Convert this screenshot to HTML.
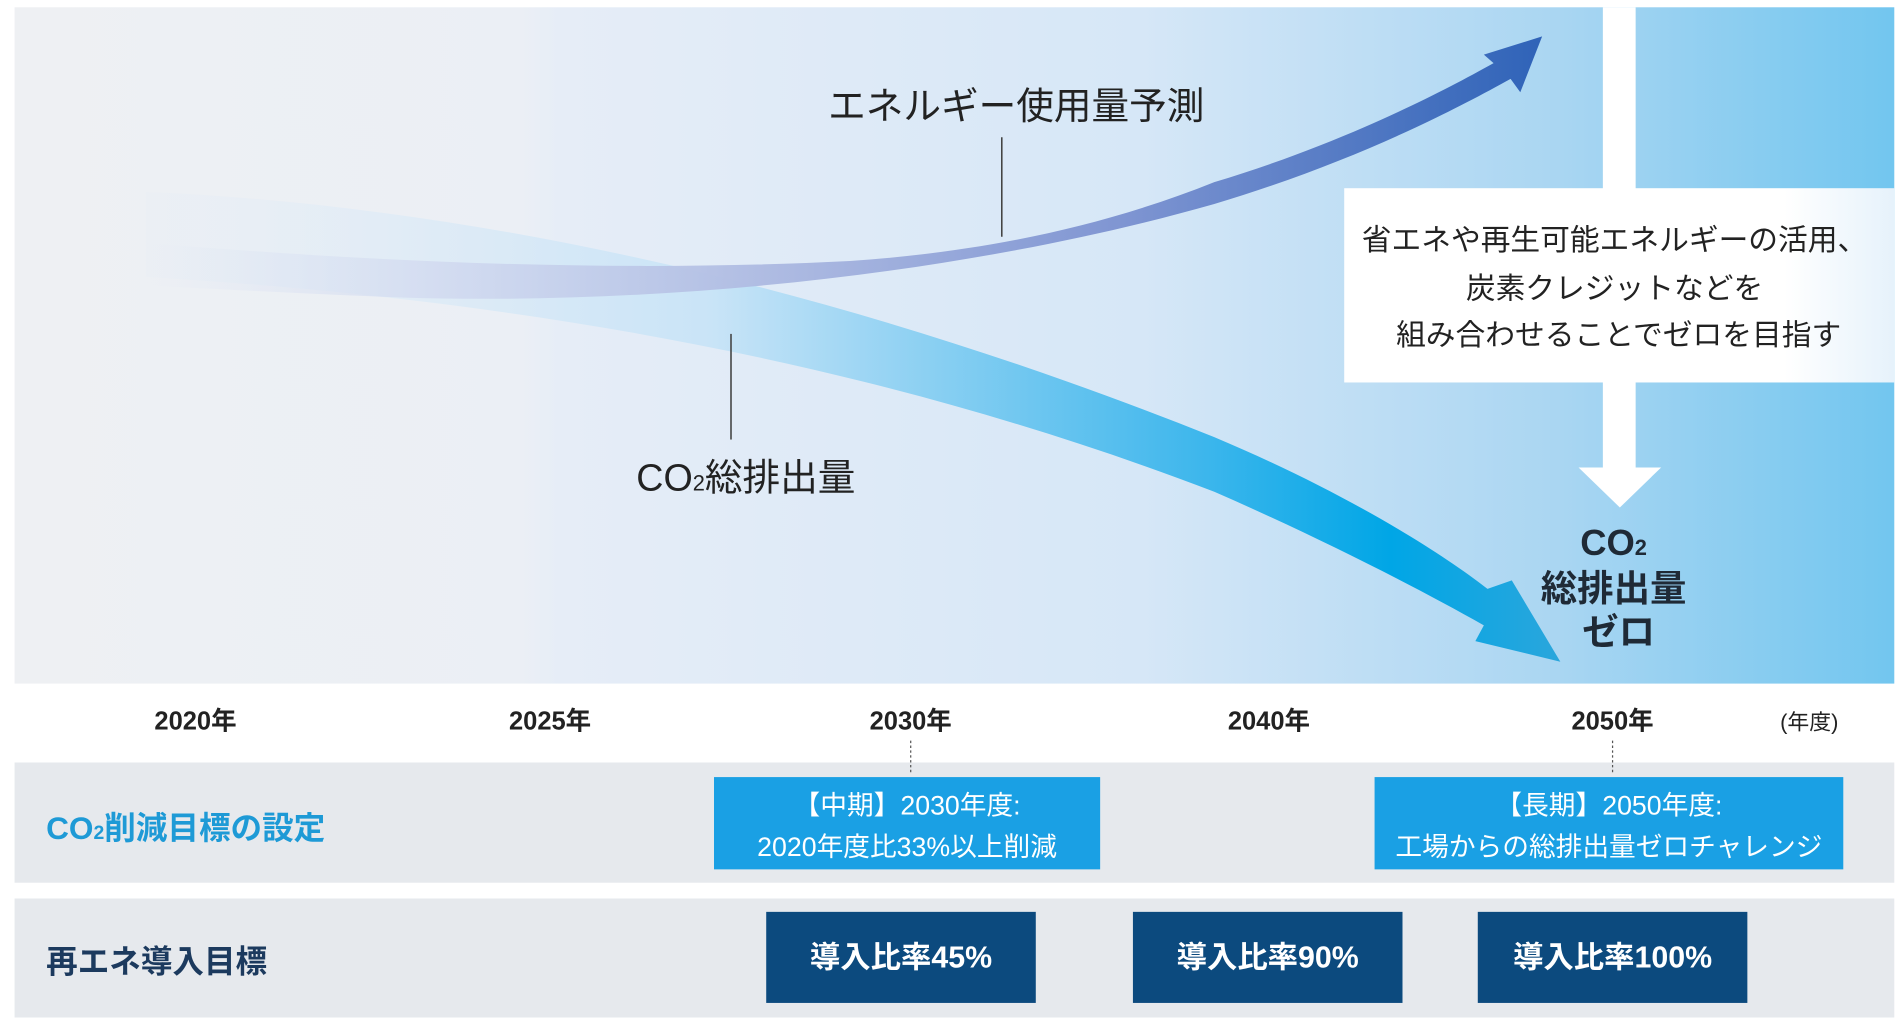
<!DOCTYPE html>
<html><head><meta charset="utf-8"><style>
html,body{margin:0;padding:0;background:#fff;}
svg{display:block;}
text{font-family:"Liberation Sans","Noto Sans CJK JP",sans-serif;}
</style></head><body>
<svg width="1904" height="1026" viewBox="0 0 1568 845" preserveAspectRatio="none" xmlns="http://www.w3.org/2000/svg">
<defs>
<linearGradient id="bg" x1="0" x2="1" y1="0" y2="0">
<stop offset="0" stop-color="#eef0f3"/>
<stop offset="0.27" stop-color="#ebeff5"/>
<stop offset="0.29" stop-color="#e6edf7"/>
<stop offset="0.6" stop-color="#d6e7f7"/>
<stop offset="0.82" stop-color="#aad6f2"/>
<stop offset="1" stop-color="#72c6ef"/>
</linearGradient>
<linearGradient id="boxg" x1="0" x2="1" y1="0" y2="0">
<stop offset="0" stop-color="#fff"/><stop offset="0.8" stop-color="#fff"/><stop offset="1" stop-color="#e6f2fb"/>
</linearGradient>
<linearGradient id="eg" x1="120" x2="1270" y1="0" y2="0" gradientUnits="userSpaceOnUse">
<stop offset="0" stop-color="#dde6f4" stop-opacity="0"/>
<stop offset="0.2" stop-color="#d2daf0" stop-opacity="0.8"/>
<stop offset="0.45" stop-color="#aebbe2"/>
<stop offset="0.7" stop-color="#7f95d2"/>
<stop offset="1" stop-color="#2f63b8"/>
</linearGradient>
<linearGradient id="cg" x1="120" x2="1285" y1="0" y2="0" gradientUnits="userSpaceOnUse">
<stop offset="0" stop-color="#e4edf7" stop-opacity="0.2"/>
<stop offset="0.4" stop-color="#c9e4f7"/>
<stop offset="0.75" stop-color="#3cb6ec"/>
<stop offset="0.88" stop-color="#00a6e6"/>
<stop offset="1" stop-color="#2aa6dc"/>
</linearGradient>
</defs>
<rect x="12" y="6" width="1548" height="557" fill="url(#bg)"/>
<path fill="url(#cg)" d="M120,158 C400,170 700,240 1000,360 C1100,402 1180,450 1225,485 L1245,478 L1285,545 L1215,528 L1222,515 C1160,480 1080,440 1000,405 C700,290 400,245 120,228 Z"/>
<path fill="url(#eg)" d="M120,200 C300,215 500,225 700,215 C800,208 900,190 1000,150 C1100,120 1180,80 1230,52 L1222,45 L1270,30 L1252,76 L1244,65 C1190,95 1110,135 1000,168 C800,225 550,252 330,245 C250,242 180,238 120,235 Z"/>
<rect x="1320" y="6" width="27" height="380" fill="#fff"/>
<rect x="1107" y="155" width="453" height="160" fill="url(#boxg)"/>
<polygon points="1300,385 1368,385 1334,418" fill="#fff"/>
<text font-size="24.5" fill="#222" text-anchor="middle">
<tspan x="1333" y="206">省エネや再生可能エネルギーの活用、</tspan>
<tspan x="1333" y="246">炭素クレジットなどを</tspan>
<tspan x="1333" y="284">組み合わせることでゼロを目指す</tspan>
</text>
<text font-size="30" font-weight="bold" fill="#1f2a36" text-anchor="middle">
<tspan x="1333" y="457">CO<tspan font-size="18">2</tspan></tspan>
<tspan x="1333" y="495">総排出量</tspan>
<tspan x="1333" y="531">ゼロ</tspan>
</text>
<line x1="825" y1="113" x2="825" y2="195" stroke="#444" stroke-width="1.3"/>
<text x="682" y="98" font-size="31" fill="#222">エネルギー使用量予測</text>
<line x1="602" y1="275" x2="602" y2="362" stroke="#444" stroke-width="1.3"/>
<text x="524" y="404" font-size="31" fill="#222">CO<tspan font-size="18">2</tspan>総排出量</text>
<g id="years"></g>
<rect x="12" y="628" width="1548" height="99" fill="#e6e9ed"/>
<rect x="12" y="740" width="1548" height="98" fill="#e6e9ed"/>
<text x="38" y="691" font-size="26" font-weight="bold" fill="#1e9ad6">CO<tspan font-size="16">2</tspan>削減目標の設定</text>
<text x="38" y="801" font-size="26" font-weight="bold" fill="#1c3a5e">再エネ導入目標</text>
<line x1="750" y1="610" x2="750" y2="638" stroke="#555" stroke-width="1" stroke-dasharray="2,2"/>
<line x1="1328" y1="610" x2="1328" y2="638" stroke="#555" stroke-width="1" stroke-dasharray="2,2"/>
<rect x="588" y="640" width="318" height="76" fill="#1aa0e4"/>
<text font-size="22" fill="#fff" text-anchor="middle"><tspan x="747" y="671">【中期】2030年度:</tspan><tspan x="747" y="705">2020年度比33%以上削減</tspan></text>
<rect x="1132" y="640" width="386" height="76" fill="#1aa0e4"/>
<text font-size="22" fill="#fff" text-anchor="middle"><tspan x="1325" y="671">【長期】2050年度:</tspan><tspan x="1325" y="705">工場からの総排出量ゼロチャレンジ</tspan></text>
<g id="ren"></g>
</svg>
<script>
const yearLabels = ["2020年","2025年","2030年","2040年","2050年"];
const yearX = [161,453,750,1045,1328];
const renewLabels = ["導入比率45%","導入比率90%","導入比率100%"];
const renewX = [631,933,1217];
const NS="http://www.w3.org/2000/svg";
const yg=document.getElementById('years');
yearLabels.forEach((l,i)=>{
  const t=document.createElementNS(NS,'text');
  
  
  t.setAttribute('x',yearX[i]);t.setAttribute('y',601);
  t.setAttribute('font-size','21');t.setAttribute('font-weight','bold');
  t.setAttribute('fill','#222');t.setAttribute('text-anchor','middle');
  t.textContent=l;yg.appendChild(t);
});
const u=document.createElementNS(NS,'text');


u.setAttribute('x',1490);u.setAttribute('y',601);u.setAttribute('font-size','18');
u.setAttribute('fill','#222');u.setAttribute('text-anchor','middle');u.textContent='(年度)';yg.appendChild(u);
const rg=document.getElementById('ren');
renewLabels.forEach((l,i)=>{
  const r=document.createElementNS(NS,'rect');
  
  
  r.setAttribute('x',renewX[i]);r.setAttribute('y',751);r.setAttribute('width',222);r.setAttribute('height',75);
  r.setAttribute('fill','#0c4a7e');rg.appendChild(r);
  const t=document.createElementNS(NS,'text');
  
  
  t.setAttribute('x',renewX[i]+111);t.setAttribute('y',797);t.setAttribute('font-size','25');
  t.setAttribute('font-weight','bold');t.setAttribute('fill','#fff');t.setAttribute('text-anchor','middle');
  t.textContent=l;rg.appendChild(t);
});
</script>
</body></html>
